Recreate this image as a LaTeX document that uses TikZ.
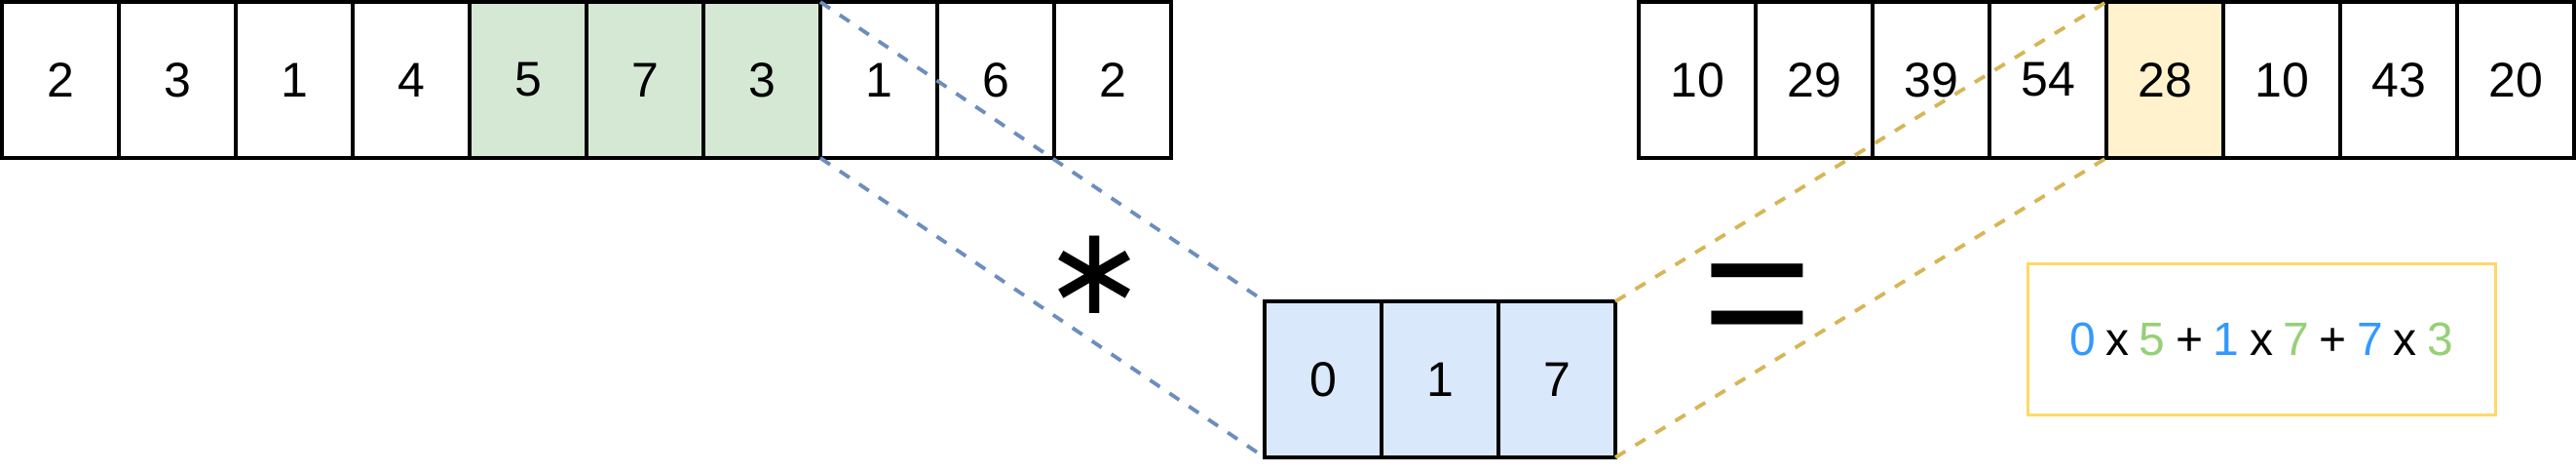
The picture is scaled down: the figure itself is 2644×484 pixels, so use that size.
\documentclass[tikz,border=0pt]{standalone}
\usepackage{fontspec}
\setmainfont{Liberation Sans}
\newfontfamily\symfont{DejaVu Sans}
\definecolor{blueline}{HTML}{6C8EBF}
\definecolor{kfill}{HTML}{DAE8FC}
\definecolor{gfill}{HTML}{D5E8D4}
\definecolor{yfill}{HTML}{FFF2CC}
\definecolor{yline}{HTML}{D6B656}
\definecolor{ybox}{HTML}{FFD966}
\definecolor{dblue}{HTML}{3399FF}
\definecolor{dgreen}{HTML}{97D077}
\begin{document}
\begin{tikzpicture}[x=0.3pt,y=-0.3pt,
  cell/.style={draw=black, line width=1.2pt, minimum width=36pt, minimum height=48pt,
    inner sep=0pt, outer sep=0pt, font=\fontsize{15pt}{18pt}\selectfont},
  conn/.style={line width=1.15pt, dash pattern=on 3.6pt off 3.6pt},
  bluedash/.style={conn, draw=blueline},
  yellowdash/.style={conn, draw=yline},
  bigsym/.style={inner sep=0pt, outer sep=0pt},
  formbox/.style={draw=ybox, line width=0.9pt, minimum width=144pt, minimum height=46.5pt,
    inner sep=0pt, font=\fontsize{14.4pt}{17pt}\selectfont}]
\useasboundingbox (0,0) rectangle (2644,484);
% input array
\foreach \v/\f [count=\i] in {2/white,3/white,1/white,4/white,5/gfill,7/gfill,3/gfill,1/white,6/white,2/white}
  \node[cell, fill=\f] (L\i) at (120*\i-58,82) {\v};
% output array
\foreach \v/\f [count=\j] in {10/white,29/white,39/white,54/white,28/yfill,10/white,43/white,20/white}
  \node[cell, fill=\f] (R\j) at (1622+120*\j,82) {\v};
% kernel
\foreach \v [count=\k] in {0,1,7}
  \node[cell, fill=kfill] (K\k) at (1238+120*\k,389) {\v};
% connectors
\draw[bluedash] (L7.north east) -- (K1.north west);
\draw[bluedash] (L7.south east) -- (K1.south west);
\draw[yellowdash] (K3.north east) -- (R5.north west);
\draw[yellowdash] (K3.south east) -- (R5.south west);
% operators
\node[bigsym] (ast) at (1124,282) {\symfont\fontsize{38pt}{38pt}\selectfont ∗};
\node[bigsym] (eq) at (1804,318) {\fontsize{58pt}{58pt}\selectfont =};
% formula
\node[formbox] (form) at (2321,347.5) {\spaceskip=0.22em\relax \textcolor{dblue}{0} x \textcolor{dgreen}{5} + \textcolor{dblue}{1} x \textcolor{dgreen}{7} + \textcolor{dblue}{7} x \textcolor{dgreen}{3}};
\end{tikzpicture}
\end{document}
